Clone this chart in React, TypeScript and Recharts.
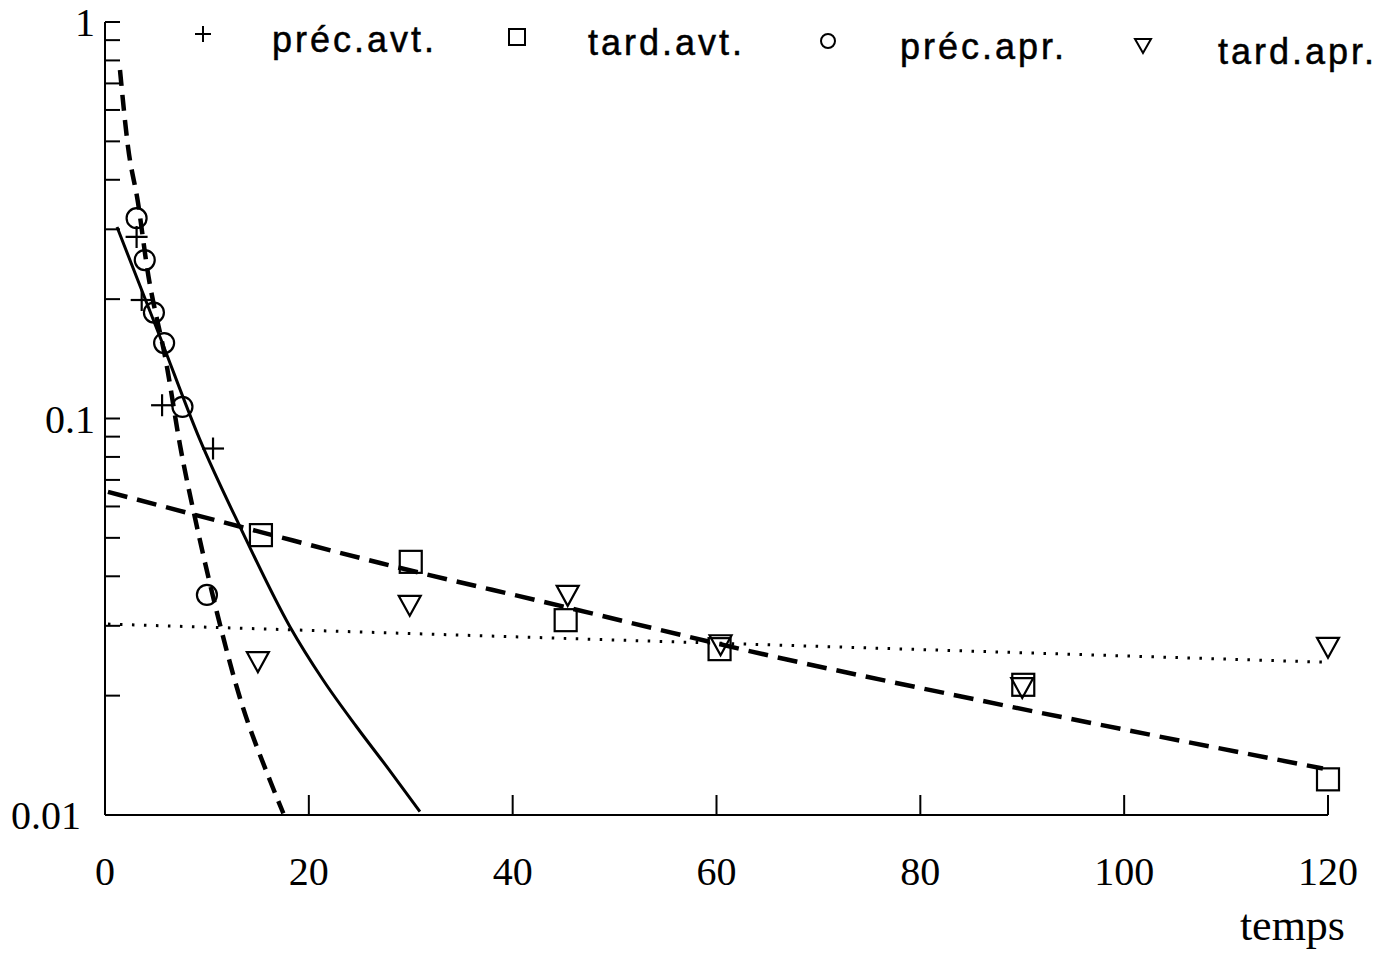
import React from "react"
import {
  ComposedChart,
  Line,
  Scatter,
  XAxis,
  YAxis,
  Legend,
} from "recharts"

// points mesurés (temps, fraction)
const precAvt = [
  { x: 3.1, y: 0.287 },
  { x: 3.6, y: 0.199 },
  { x: 5.6, y: 0.108 },
  { x: 10.6, y: 0.084 },
]
const tardAvt = [
  { x: 15.3, y: 0.0508 },
  { x: 30.0, y: 0.0435 },
  { x: 45.2, y: 0.031 },
  { x: 60.3, y: 0.0262 },
  { x: 90.1, y: 0.0213 },
  { x: 120, y: 0.0123 },
]
const precApr = [
  { x: 3.1, y: 0.32 },
  { x: 3.9, y: 0.251 },
  { x: 4.8, y: 0.185 },
  { x: 5.8, y: 0.155 },
  { x: 7.6, y: 0.107 },
  { x: 10.0, y: 0.0359 },
]
const tardApr = [
  { x: 15.0, y: 0.0243 },
  { x: 29.9, y: 0.0337 },
  { x: 45.4, y: 0.0357 },
  { x: 60.4, y: 0.0268 },
  { x: 90.0, y: 0.0209 },
  { x: 120, y: 0.0264 },
]

// courbes ajustées
const fitPrecApr = [
  { x: 1.47, y: 0.757 },
  { x: 2.26, y: 0.484 },
  { x: 3.24, y: 0.35 },
  { x: 4.12, y: 0.241 },
  { x: 6.08, y: 0.135 },
  { x: 7.36, y: 0.0857 },
  { x: 9.03, y: 0.0532 },
  { x: 11.0, y: 0.0323 },
  { x: 13.2, y: 0.0199 },
  { x: 16.2, y: 0.0122 },
  { x: 17.5, y: 0.0101 },
]
const fitPrecAvt = [
  { x: 1.18, y: 0.304 },
  { x: 5.4, y: 0.1606 },
  { x: 9.32, y: 0.0883 },
  { x: 13.25, y: 0.0533 },
  { x: 18.16, y: 0.0298 },
  { x: 21.4, y: 0.0219 },
  { x: 24.7, y: 0.01667 },
  { x: 27.9, y: 0.01298 },
  { x: 30.9, y: 0.0102 },
]
const fitTardAvt = [
  { x: 0.29, y: 0.0653 },
  { x: 15.3, y: 0.0517 },
  { x: 27.0, y: 0.0432 },
  { x: 43.4, y: 0.0343 },
  { x: 65.9, y: 0.025 },
  { x: 83.2, y: 0.0201 },
  { x: 119.5, y: 0.0131 },
]
const fitTardApr = [
  { x: 0.29, y: 0.0303 },
  { x: 119.4, y: 0.0243 },
]

const xTicks = [0, 20, 40, 60, 80, 100, 120]
const yTicks = [
  0.01, 0.02, 0.03, 0.04, 0.05, 0.06, 0.07, 0.08, 0.09,
  0.1, 0.2, 0.3, 0.4, 0.5, 0.6, 0.7, 0.8, 0.9, 1,
]
const yLabels: Record<string, string> = { "0.01": "0.01", "0.1": "0.1", "1": "1" }
const legendItems = [
  { name: "préc.avt.", marker: "cross" },
  { name: "tard.avt.", marker: "square" },
  { name: "préc.apr.", marker: "circle" },
  { name: "tard.apr.", marker: "triangle" },
]

const SERIF = "'Liberation Serif', 'Times New Roman', serif"
const SANS = "'Liberation Sans', Arial, sans-serif"

function Marker({ kind, cx, cy, s = 11, w = 2.2 }: { kind: string; cx: number; cy: number; s?: number; w?: number }) {
  if (kind === "cross")
    return (
      <g stroke="#000" strokeWidth={w}>
        <line x1={cx - s} x2={cx + s} y1={cy} y2={cy} />
        <line x1={cx} x2={cx} y1={cy - s} y2={cy + s} />
      </g>
    )
  if (kind === "square")
    return <rect x={cx - s} y={cy - s} width={2 * s} height={2 * s} fill="none" stroke="#000" strokeWidth={w} />
  if (kind === "circle") return <circle cx={cx} cy={cy} r={s - 1} fill="none" stroke="#000" strokeWidth={w} />
  return (
    <polygon
      points={`${cx - s},${cy - s + 1} ${cx + s},${cy - s + 1} ${cx},${cy + s - 1}`}
      fill="none"
      stroke="#000"
      strokeWidth={w}
    />
  )
}

const shape = (kind: string) => (p: any) => <Marker kind={kind} cx={p.cx} cy={p.cy} />

function YTick(p: any) {
  const v = p.payload.value
  const lab = yLabels[String(v)]
  return (
    <g>
      <line x1={p.x} x2={p.x + 15} y1={p.y} y2={p.y} stroke="#000" strokeWidth={2} />
      {lab && (
        <text
          x={p.x - (lab === "0.01" ? 24 : 10)}
          y={p.y}
          dy="0.36em"
          textAnchor="end"
          fontFamily={SERIF}
          fontSize={40}
          fill="#000"
        >
          {lab}
        </text>
      )}
    </g>
  )
}

function XTick(p: any) {
  const v = p.payload.value
  return (
    <g>
      {v !== 0 && <line x1={p.x} x2={p.x} y1={p.y} y2={p.y - 20} stroke="#000" strokeWidth={2} />}
      <text x={p.x} y={p.y + 70} textAnchor="middle" fontFamily={SERIF} fontSize={40} fill="#000">
        {v}
      </text>
    </g>
  )
}

function LegendBox() {
  const pos = [
    { mx: 203, tx: 272, y: 46 },
    { mx: 517, tx: 588, y: 49 },
    { mx: 828, tx: 900, y: 53 },
    { mx: 1143, tx: 1218, y: 58 },
  ]
  return (
    <svg width={1400} height={100}>
      {legendItems.map((it, i) => (
        <g key={it.name}>
          <Marker kind={it.marker} cx={pos[i].mx} cy={pos[i].y - 12} s={8} w={2} />
          <text
            x={pos[i].tx}
            y={pos[i].y + 6}
            fontFamily={SANS}
            fontSize={36}
            letterSpacing={3}
            fill="#000"
            stroke="#000"
            strokeWidth={0.5}
          >
            {it.name}
          </text>
        </g>
      ))}
    </svg>
  )
}

export default function App() {
  return (
    <div style={{ position: "absolute", left: 0, top: 0 }}>
      <ComposedChart width={1400} height={955} margin={{ top: 22, right: 72, bottom: 0, left: 0 }}>
        <XAxis
          dataKey="x"
          type="number"
          domain={[0, 120]}
          ticks={xTicks}
          tickSize={0}
          tickMargin={0}
          tick={<XTick />}
          height={140}
          axisLine={{ stroke: "#000", strokeWidth: 2 }}
          label={{
            content: (props: any) => {
              const vb = props.viewBox
              return (
                <text x={vb.x + vb.width + 17} y={vb.y + 125} textAnchor="end" fontFamily={SERIF} fontSize={44} fill="#000">
                  temps
                </text>
              )
            },
          }}
        />
        <YAxis
          dataKey="y"
          type="number"
          scale="log"
          domain={[0.01, 1]}
          allowDataOverflow
          ticks={yTicks}
          interval={0}
          tickSize={0}
          tickMargin={0}
          tick={<YTick />}
          width={105}
          axisLine={{ stroke: "#000", strokeWidth: 2 }}
        />
        <Legend
          layout="horizontal"
          verticalAlign="middle"
          align="center"
          wrapperStyle={{ position: "absolute", top: 0, left: 0, width: 1400, height: 100 }}
          content={() => <LegendBox />}
        />
        <Line data={fitPrecApr} dataKey="y" type="monotone" stroke="#000" strokeWidth={4.5} strokeDasharray="16 9" dot={false} isAnimationActive={false} legendType="none" />
        <Line data={fitPrecAvt} dataKey="y" type="monotone" stroke="#000" strokeWidth={3} dot={false} isAnimationActive={false} legendType="none" />
        <Line data={fitTardAvt} dataKey="y" type="monotone" stroke="#000" strokeWidth={4.5} strokeDasharray="20 10" dot={false} isAnimationActive={false} legendType="none" />
        <Line data={fitTardApr} dataKey="y" type="linear" stroke="#000" strokeWidth={3} strokeDasharray="2.5 9.5" dot={false} isAnimationActive={false} legendType="none" />
        <Scatter name="préc.avt." data={precAvt} shape={shape("cross")} isAnimationActive={false} />
        <Scatter name="tard.avt." data={tardAvt} shape={shape("square")} isAnimationActive={false} />
        <Scatter name="préc.apr." data={precApr} shape={shape("circle")} isAnimationActive={false} />
        <Scatter name="tard.apr." data={tardApr} shape={shape("triangle")} isAnimationActive={false} />
      </ComposedChart>
    </div>
  )
}
